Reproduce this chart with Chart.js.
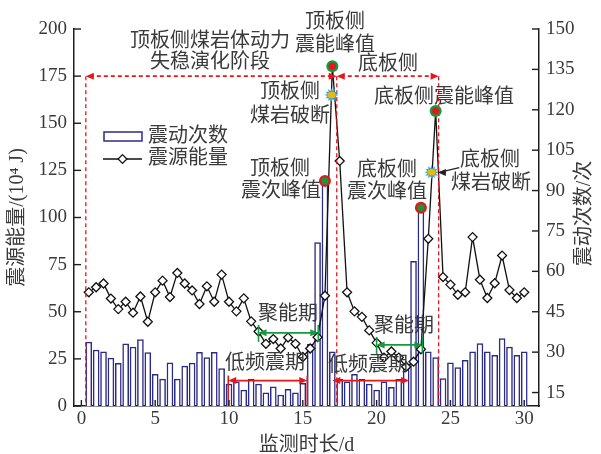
<!DOCTYPE html>
<html>
<head>
<meta charset="utf-8">
<script src="https://cdn.jsdelivr.net/npm/chart.js@4.4.1/dist/chart.umd.min.js"></script>
<style>
  html, body { margin: 0; padding: 0; background: #fff; }
  #wrap { width: 601px; height: 454px; }
</style>
</head>
<body>
<div id="wrap"><canvas id="c" width="601" height="454"></canvas></div>
<script>
// Monitoring time (d), sampled every half day
const days = [0.5, 1, 1.5, 2, 2.5, 3, 3.5, 4, 4.5, 5, 5.5, 6, 6.5, 7, 7.5, 8, 8.5, 9, 9.5, 10,
  10.5, 11, 11.5, 12, 12.5, 13, 13.5, 14, 14.5, 15, 15.5, 16, 16.5, 17, 17.5, 18, 18.5, 19, 19.5, 20,
  20.5, 21, 21.5, 22, 22.5, 23, 23.5, 24, 24.5, 25, 25.5, 26, 26.5, 27, 27.5, 28, 28.5, 29, 29.5, 30];

// Seismic event counts (times) — right axis
const eventCounts = [33.7, 30.8, 30.1, 27.8, 25.8, 33.1, 31.9, 34.7, 29.8, 21.8,
  20.0, 26.0, 20.0, 24.8, 25.9, 29.9, 28.0, 29.9, 23.9, 18.1,
  19.0, 15.9, 19.9, 18.1, 14.9, 17.1, 14.1, 16.2, 14.9, 18.4,
  32.9, 70.7, 93.6, 30.1, 19.9, 19.0, 21.8, 19.9, 18.1, 15.9,
  19.0, 16.9, 19.9, 25.1, 63.7, 83.6, 30.1, 28.0, 20.2, 26.0,
  24.3, 27.0, 30.1, 33.2, 30.1, 28.8, 35.0, 31.9, 28.8, 30.1];

// Seismic source energy (10^4 J) — left axis
const sourceEnergy = [60.3, 63.0, 65.0, 57.0, 51.4, 55.3, 49.5, 58.1, 44.7, 60.3,
  66.5, 57.8, 70.6, 65.0, 61.3, 54.1, 63.5, 55.3, 69.7, 55.3,
  50.2, 57.1, 44.9, 39.5, 33.0, 35.5, 30.5, 36.3, 33.0, 26.0,
  30.5, 36.5, 58.5, 180.3, 130.0, 60.3, 50.2, 47.3, 40.1, 33.5,
  25.7, 28.9, 25.7, 20.8, 23.5, 30.1, 88.7, 156.5, 68.4, 64.4,
  59.0, 60.3, 89.6, 67.0, 57.3, 65.1, 79.8, 61.5, 57.3, 60.3];

// Axis tick labels
const xTickValues = [0, 5, 10, 15, 20, 25, 30];
const energyTickValues = [0, 25, 50, 75, 100, 125, 150, 175, 200];
const countTickValues = [15, 30, 45, 60, 75, 90, 105, 120, 135, 150];

// Text
const seriesNames = ['震动次数', '震源能量'];
const axisTitles = { x: '监测时长/d', left: '震源能量/(10⁴ J)', right: '震动次数/次' };

const NUM_FONT = '"Liberation Serif", "Times New Roman", serif';
const CJK_FONT = '"Liberation Serif", "Noto Sans CJK SC", serif';
const TEXT_COLOR = '#3a3a3a';
const AXIS_COLOR = '#1e1e1e';
const NOTE_SIZE = 20;

// Stage boundaries and period spans (in days), levels on the energy axis
const stageBounds = [0.3, 17.3, 24.2];
const stageLevel = 175;
const gatherSpans = [[12.0, 16.05, 38.8], [20.0, 23.1, 32.4]];
const lowFreqSpans = [[9.95, 15.3, 13.5, true], [17.0, 22.2, 13.5, false]];

// Index of the event-specific points
const roofEnergyPeakIdx = days.indexOf(17);
const floorEnergyPeakIdx = days.indexOf(24);
const roofCountPeakIdx = days.indexOf(16.5);
const floorCountPeakIdx = days.indexOf(23);

function arrowHead(ctx, x, y, dir, color) {
  ctx.save();
  ctx.fillStyle = color;
  ctx.beginPath();
  ctx.moveTo(x, y);
  ctx.lineTo(x - dir * 8, y - 3.5);
  ctx.lineTo(x - dir * 8, y + 3.5);
  ctx.closePath();
  ctx.fill();
  ctx.restore();
}

function hArrow(ctx, x1, x2, y, color, dashed) {
  ctx.save();
  ctx.strokeStyle = color;
  ctx.lineWidth = dashed ? 1.6 : 1.8;
  if (dashed) ctx.setLineDash([4, 3]);
  ctx.beginPath();
  ctx.moveTo(x1 + 4, y);
  ctx.lineTo(x2 - 4, y);
  ctx.stroke();
  ctx.restore();
  arrowHead(ctx, x1, y, -1, color);
  arrowHead(ctx, x2, y, 1, color);
}

function peakDot(ctx, x, y, ring, core) {
  ctx.save();
  ctx.fillStyle = ring;
  ctx.beginPath(); ctx.arc(x, y, 6, 0, Math.PI * 2); ctx.fill();
  ctx.fillStyle = core;
  ctx.beginPath(); ctx.arc(x, y, 3.6, 0, Math.PI * 2); ctx.fill();
  ctx.restore();
}

function burst(ctx, x, y) {
  ctx.save();
  ctx.fillStyle = '#2aa6e8';
  ctx.beginPath();
  const n = 12;
  for (let i = 0; i < n * 2; i++) {
    const r = i % 2 === 0 ? 7 : 4.2;
    const a = (Math.PI * i) / n;
    const px = x + r * Math.cos(a), py = y + r * Math.sin(a);
    if (i === 0) ctx.moveTo(px, py); else ctx.lineTo(px, py);
  }
  ctx.closePath();
  ctx.fill();
  ctx.fillStyle = '#f2b705';
  ctx.beginPath(); ctx.ellipse(x, y, 4, 3.2, 0, 0, Math.PI * 2); ctx.fill();
  ctx.restore();
}

function label(ctx, text, x, y) {
  ctx.save();
  ctx.font = NOTE_SIZE + 'px ' + CJK_FONT;
  ctx.fillStyle = TEXT_COLOR;
  ctx.textAlign = 'center';
  ctx.textBaseline = 'middle';
  ctx.fillText(text, x, y);
  ctx.restore();
}

const notesPlugin = {
  id: 'notes',
  afterDatasetsDraw(chart) {
    const { ctx, scales } = chart;
    const x = scales.x, yL = scales.yL, yR = scales.yR;
    const px = v => x.getPixelForValue(v);
    const pyL = v => yL.getPixelForValue(v);
    const pyR = v => yR.getPixelForValue(v);
    const bottom = chart.chartArea.bottom;
    const red = '#e3171c', green = '#139a3c';

    // stage boundaries (dashed red)
    const sy = pyL(stageLevel);
    ctx.save();
    ctx.strokeStyle = red;
    ctx.lineWidth = 1.3;
    ctx.setLineDash([4, 3]);
    stageBounds.forEach(d => {
      ctx.beginPath();
      ctx.moveTo(px(d), sy);
      ctx.lineTo(px(d), bottom);
      ctx.stroke();
    });
    ctx.restore();
    hArrow(ctx, px(stageBounds[0]), px(stageBounds[1]), sy, red, true);
    hArrow(ctx, px(stageBounds[1]), px(stageBounds[2]), sy, red, true);

    // energy-gathering periods (green)
    gatherSpans.forEach(([a, b, lv]) => {
      const y = pyL(lv);
      hArrow(ctx, px(a), px(b), y, green, false);
      ctx.save();
      ctx.strokeStyle = green; ctx.lineWidth = 1.6;
      [a, b].forEach(d => { ctx.beginPath(); ctx.moveTo(px(d), y - 8); ctx.lineTo(px(d), y + 9); ctx.stroke(); });
      ctx.restore();
    });

    // low-frequency periods (red)
    lowFreqSpans.forEach(([a, b, lv, ends]) => {
      const y = pyL(lv);
      hArrow(ctx, px(a), px(b), y, red, false);
      if (ends) {
        ctx.save();
        ctx.strokeStyle = red; ctx.lineWidth = 1.6;
        [a, b].forEach(d => { ctx.beginPath(); ctx.moveTo(px(d), y - 5); ctx.lineTo(px(d), bottom); ctx.stroke(); });
        ctx.restore();
      }
    });

    // fracture markers on the energy curve
    burst(ctx, px(16.95), pyL(165));
    burst(ctx, px(23.72), pyL(124));
    // pointer to floor fracture marker
    ctx.save();
    ctx.strokeStyle = '#222'; ctx.lineWidth = 1.3;
    ctx.beginPath(); ctx.moveTo(px(25.6), pyL(126.5)); ctx.lineTo(px(24.25), pyL(124)); ctx.stroke();
    ctx.restore();
    arrowHead(ctx, px(24.15), pyL(123.9), -1, '#222');

    // peak markers
    peakDot(ctx, px(days[roofEnergyPeakIdx]), pyL(sourceEnergy[roofEnergyPeakIdx]), green, red);
    peakDot(ctx, px(days[floorEnergyPeakIdx]), pyL(sourceEnergy[floorEnergyPeakIdx]), green, red);
    peakDot(ctx, px(days[roofCountPeakIdx]), pyR(eventCounts[roofCountPeakIdx]), red, green);
    peakDot(ctx, px(days[floorCountPeakIdx]), pyR(eventCounts[floorCountPeakIdx]), red, green);

    // text notes
    label(ctx, '顶板侧煤岩体动力', 210, 42);
    label(ctx, '失稳演化阶段', 210, 63);
    label(ctx, '顶板侧', 335, 23);
    label(ctx, '震能峰值', 335, 46);
    label(ctx, '底板侧', 388, 65);
    label(ctx, '顶板侧', 290, 93);
    label(ctx, '煤岩破断', 290, 117);
    label(ctx, '顶板侧', 280, 170);
    label(ctx, '震次峰值', 281, 192);
    label(ctx, '底板侧震能峰值', 444, 98);
    label(ctx, '底板侧', 387, 171);
    label(ctx, '震次峰值', 387, 193);
    label(ctx, '底板侧', 490, 161);
    label(ctx, '煤岩破断', 491, 184);
    label(ctx, '聚能期', 288, 315);
    label(ctx, '聚能期', 404, 327);
    label(ctx, '低频震期', 265, 364);
    label(ctx, '低频震期', 368, 366);

    // legend
    ctx.save();
    ctx.fillStyle = '#fff';
    ctx.strokeStyle = '#2b2b88';
    ctx.lineWidth = 1.5;
    ctx.fillRect(104, 132, 38, 9);
    ctx.strokeRect(104, 132, 38, 9);
    ctx.strokeStyle = '#111';
    ctx.lineWidth = 1.3;
    ctx.beginPath(); ctx.moveTo(103, 159); ctx.lineTo(142, 159); ctx.stroke();
    ctx.fillStyle = '#fff';
    ctx.beginPath();
    ctx.moveTo(122.5, 154.6); ctx.lineTo(126.9, 159); ctx.lineTo(122.5, 163.4); ctx.lineTo(118.1, 159);
    ctx.closePath(); ctx.fill(); ctx.stroke();
    ctx.restore();
    ctx.save();
    ctx.font = NOTE_SIZE + 'px ' + CJK_FONT;
    ctx.fillStyle = TEXT_COLOR;
    ctx.textBaseline = 'middle';
    ctx.fillText(seriesNames[0], 148, 137);
    ctx.fillText(seriesNames[1], 148, 159);
    ctx.restore();
  },
  afterDraw(chart) {
    const { ctx, scales, chartArea } = chart;
    const x = scales.x, yL = scales.yL, yR = scales.yR;
    ctx.save();
    ctx.strokeStyle = AXIS_COLOR;
    ctx.lineWidth = 1.4;
    // inward tick marks
    xTickValues.forEach(v => {
      const p = x.getPixelForValue(v);
      ctx.beginPath(); ctx.moveTo(p, chartArea.bottom); ctx.lineTo(p, chartArea.bottom - 6); ctx.stroke();
    });
    energyTickValues.forEach(v => {
      const p = yL.getPixelForValue(v);
      ctx.beginPath(); ctx.moveTo(chartArea.left, p); ctx.lineTo(chartArea.left + 7, p); ctx.stroke();
    });
    countTickValues.forEach(v => {
      const p = yR.getPixelForValue(v);
      ctx.beginPath(); ctx.moveTo(chartArea.right, p); ctx.lineTo(chartArea.right - 7, p); ctx.stroke();
    });
    ctx.restore();

    // axis titles
    ctx.save();
    ctx.font = NOTE_SIZE + 'px ' + CJK_FONT;
    ctx.fillStyle = TEXT_COLOR;
    ctx.textAlign = 'center';
    ctx.textBaseline = 'middle';
    const midY = (chartArea.top + chartArea.bottom) / 2;
    ctx.fillText(axisTitles.x, (chartArea.left + chartArea.right) / 2, 446);
    ctx.save();
    ctx.translate(18, midY);
    ctx.rotate(-Math.PI / 2);
    ctx.fillText(axisTitles.left, 0, 0);
    ctx.restore();
    ctx.save();
    ctx.translate(585, midY - 4);
    ctx.rotate(-Math.PI / 2);
    ctx.fillText(axisTitles.right, 0, 0);
    ctx.restore();
    ctx.restore();
  }
};

const tickFont = { family: NUM_FONT, size: 19 };

new Chart(document.getElementById('c'), {
  type: 'bar',
  data: {
    datasets: [
      {
        type: 'line',
        label: seriesNames[1],
        data: days.map((d, i) => ({ x: d, y: sourceEnergy[i] })),
        yAxisID: 'yL',
        borderColor: '#111',
        borderWidth: 1.3,
        tension: 0,
        pointStyle: 'rectRot',
        pointRadius: 4.5,
        pointBackgroundColor: '#fff',
        pointBorderColor: '#111',
        pointBorderWidth: 1.3,
        order: 1
      },
      {
        type: 'bar',
        label: seriesNames[0],
        data: days.map((d, i) => ({ x: d, y: eventCounts[i] })),
        yAxisID: 'yR',
        backgroundColor: '#ffffff',
        borderColor: '#2b2b88',
        borderWidth: 1.5,
        barThickness: 6,
        base: 10,
        order: 2
      }
    ]
  },
  options: {
    responsive: false,
    animation: false,
    events: [],
    layout: { padding: { top: 29, left: 0, right: 0, bottom: 0 } },
    plugins: { legend: { display: false }, tooltip: { enabled: false } },
    scales: {
      x: {
        type: 'linear',
        min: -0.5,
        max: 31,
        offset: false,
        grid: { display: false, drawTicks: false },
        border: { display: true, color: AXIS_COLOR, width: 1.5 },
        ticks: { font: tickFont, color: TEXT_COLOR, padding: 2, maxRotation: 0 },
        afterBuildTicks: s => { s.ticks = xTickValues.map(v => ({ value: v })); },
        afterFit: s => { s.height = 48; }
      },
      yL: {
        position: 'left',
        min: 0,
        max: 200,
        grid: { display: false, drawTicks: false },
        border: { display: true, color: AXIS_COLOR, width: 1.5 },
        ticks: { font: tickFont, color: TEXT_COLOR, padding: 7 },
        afterBuildTicks: s => { s.ticks = energyTickValues.map(v => ({ value: v })); },
        afterFit: s => { s.width = 74; }
      },
      yR: {
        position: 'right',
        min: 10,
        max: 150,
        grid: { display: false, drawTicks: false },
        border: { display: true, color: AXIS_COLOR, width: 1.5 },
        ticks: { font: tickFont, color: TEXT_COLOR, padding: 7 },
        afterBuildTicks: s => { s.ticks = countTickValues.map(v => ({ value: v })); },
        afterFit: s => { s.width = 62; }
      }
    }
  },
  plugins: [notesPlugin]
});
</script>
</body>
</html>
